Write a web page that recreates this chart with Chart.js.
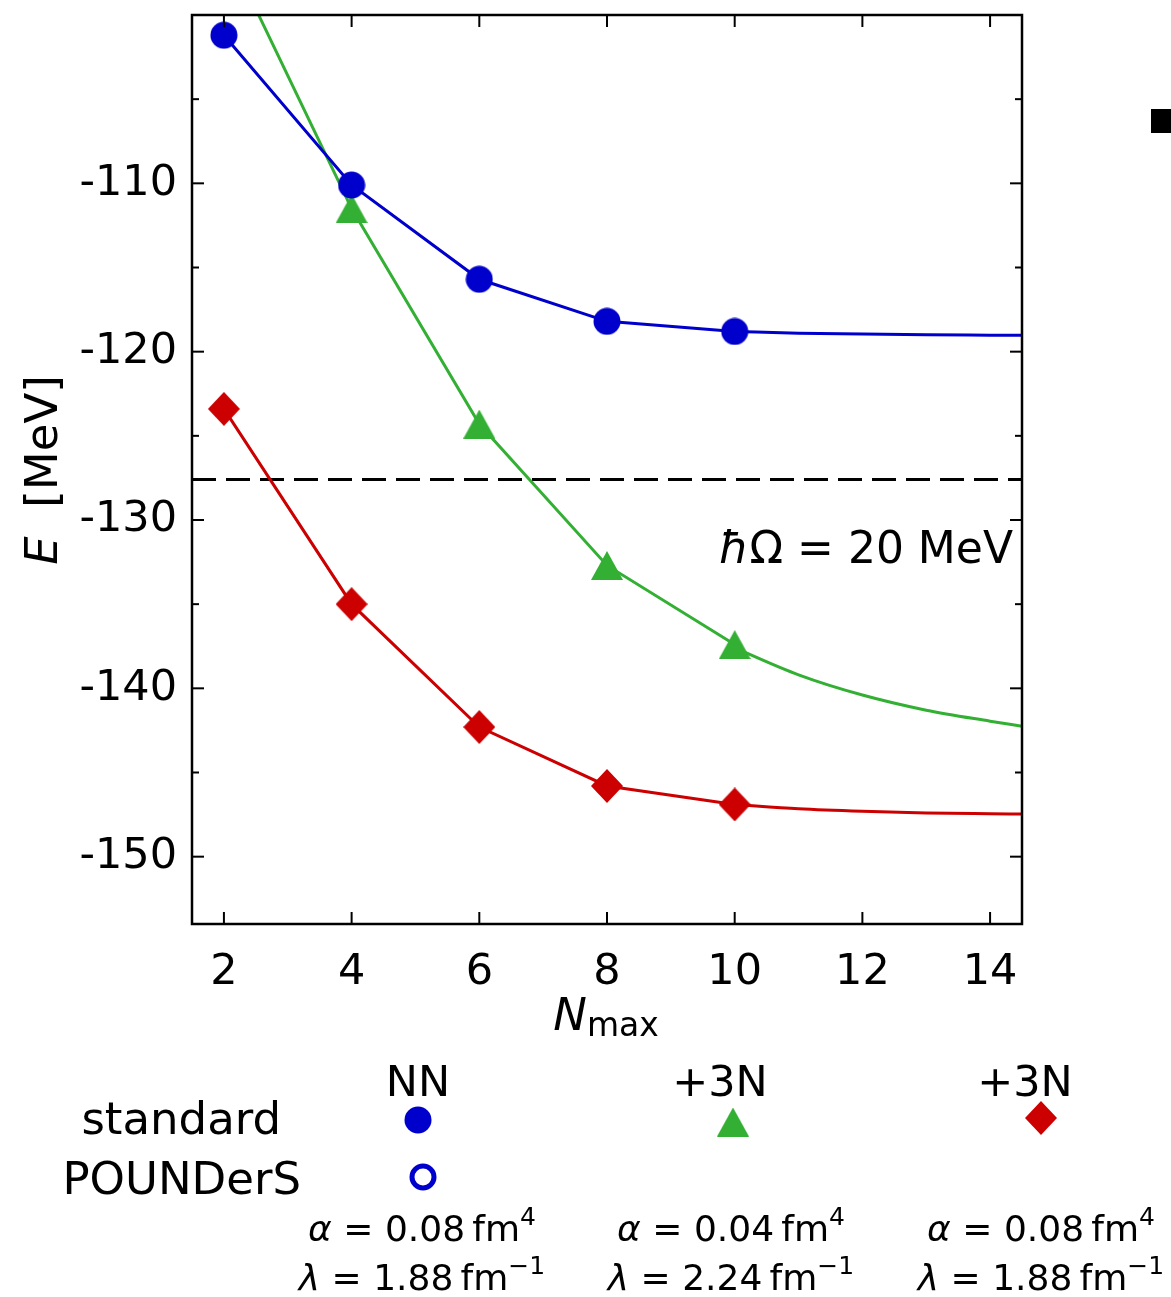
<!DOCTYPE html>
<html>
<head>
<meta charset="utf-8">
<script src="https://cdn.jsdelivr.net/npm/chart.js@4.4.1/dist/chart.umd.min.js"></script>
<style>
html, body { margin: 0; padding: 0; background: #fff; overflow: hidden; }
</style>
</head>
<body>
<canvas id="chart" width="1171" height="1297"></canvas>
<script>
// ground-state energies vs Nmax (hbar Omega = 20 MeV)
const nmax = [2, 4, 6, 8, 10];
const nnStandard = [-101.2, -110.1, -115.7, -118.2, -118.8];
const soft3N = [-95.7, -111.5, -124.3, -132.7, -137.4];   // alpha = 0.04, lambda = 2.24
const hard3N = [-123.4, -135.0, -142.3, -145.8, -146.9];  // alpha = 0.08, lambda = 1.88

const extrapN = [10, 11, 12, 13, 14, 14.5];
const nnExtrap = [-118.8, -118.9, -118.95, -119.0, -119.02, -119.03];
const soft3NExtrap = [-137.6, -139.2, -140.4, -141.3, -141.95, -142.25];
const hard3NExtrap = [-146.9, -147.15, -147.3, -147.4, -147.45, -147.47];

const refEnergy = -127.6;
const xTicks = [2, 4, 6, 8, 10, 12, 14];
const yMajor = [-150, -140, -130, -120, -110];
const yMinor = [-145, -135, -125, -115, -105];

const BLUE = '#0000cc', GREEN = '#33b033', RED = '#cc0000';
const FONT = '"DejaVu Sans", sans-serif';

function marker(shape, color, w, h) {
    const c = document.createElement('canvas');
    c.width = w;
    c.height = h;
    const g = c.getContext('2d');
    g.fillStyle = color;
    g.strokeStyle = color;
    g.beginPath();
    if (shape === 'circle') {
        g.arc(w / 2, h / 2, w / 2 - 0.5, 0, 2 * Math.PI);
        g.fill();
    } else if (shape === 'open') {
        g.lineWidth = 5;
        g.arc(w / 2, h / 2, w / 2 - 3, 0, 2 * Math.PI);
        g.stroke();
    } else if (shape === 'triangle') {
        g.moveTo(w / 2, 0);
        g.lineTo(w, h);
        g.lineTo(0, h);
        g.closePath();
        g.fill();
    } else {
        g.moveTo(w / 2, 0);
        g.lineTo(w, h / 2);
        g.lineTo(w / 2, h);
        g.lineTo(0, h / 2);
        g.closePath();
        g.fill();
    }
    return c;
}

const circleMk = marker('circle', BLUE, 28, 28);
const openMk = marker('open', BLUE, 28, 28);
const triMk = marker('triangle', GREEN, 32, 29);
const diaMk = marker('diamond', RED, 32, 34);

const pts = (xs, ys) => xs.map((x, i) => ({ x: x, y: ys[i] }));

function lineSet(xs, ys, color, curved) {
    return {
        data: pts(xs, ys),
        borderColor: color,
        borderWidth: 3,
        pointRadius: 0,
        showLine: true,
        cubicInterpolationMode: curved ? 'monotone' : 'default',
        tension: 0,
        order: 2
    };
}

function markerSet(ys, img) {
    return {
        data: pts(nmax, ys),
        pointStyle: img,
        pointRadius: 14,
        showLine: false,
        order: 0
    };
}

// draw a run of text pieces: [text, size, italic, dy]
function richText(ctx, parts, x, y, align) {
    const fontOf = p => (p[2] ? 'italic ' : '') + p[1] + 'px ' + FONT;
    let w = 0;
    parts.forEach(p => { ctx.font = fontOf(p); w += ctx.measureText(p[0]).width; });
    let cx = align === 'center' ? x - w / 2 : align === 'right' ? x - w : x;
    ctx.textAlign = 'left';
    ctx.textBaseline = 'alphabetic';
    parts.forEach(p => {
        ctx.font = fontOf(p);
        ctx.fillText(p[0], cx, y + (p[3] || 0));
        cx += ctx.measureText(p[0]).width;
    });
}

const decorations = {
    id: 'decorations',
    afterDraw(chart) {
        const ctx = chart.ctx;
        const a = chart.chartArea;
        const xs = chart.scales.x, ys = chart.scales.y;
        ctx.save();
        ctx.strokeStyle = '#000';
        ctx.fillStyle = '#000';

        // inward ticks
        ctx.lineWidth = 2;
        const seg = (x1, y1, x2, y2) => { ctx.beginPath(); ctx.moveTo(x1, y1); ctx.lineTo(x2, y2); ctx.stroke(); };
        xTicks.forEach(v => {
            const px = xs.getPixelForValue(v);
            seg(px, a.bottom, px, a.bottom - 12);
            seg(px, a.top, px, a.top + 12);
        });
        yMajor.forEach(v => {
            const py = ys.getPixelForValue(v);
            seg(a.left, py, a.left + 12, py);
            seg(a.right, py, a.right - 12, py);
        });
        yMinor.forEach(v => {
            const py = ys.getPixelForValue(v);
            seg(a.left, py, a.left + 7, py);
            seg(a.right, py, a.right - 7, py);
        });

        // frame
        ctx.lineWidth = 2.5;
        ctx.strokeRect(a.left, a.top, a.right - a.left, a.bottom - a.top);

        // axis titles
        richText(ctx, [['N', 45, true], ['max', 33, false, 6]], 606, 1030, 'center');
        ctx.save();
        ctx.translate(57, 470);
        ctx.rotate(-Math.PI / 2);
        richText(ctx, [['E', 45, true], ['  [MeV]', 45]], 0, 0, 'center');
        ctx.restore();

        // annotation
        richText(ctx, [['ħ', 44, true], ['Ω', 44], [' = 20 MeV', 44]], 1013, 563, 'right');

        // cut-off marker at the right edge
        ctx.fillRect(1151, 109, 24, 24);

        // legend table
        richText(ctx, [['NN', 43]], 418, 1096, 'center');
        richText(ctx, [['+3N', 43]], 720, 1096, 'center');
        richText(ctx, [['+3N', 43]], 1025, 1096, 'center');
        richText(ctx, [['standard', 45]], 281, 1134, 'right');
        richText(ctx, [['POUNDerS', 45]], 301, 1194, 'right');
        const put = (img, x, y) => ctx.drawImage(img, x - img.width / 2, y - img.height / 2);
        put(circleMk, 418, 1120);
        put(openMk, 423, 1177);
        put(triMk, 733, 1122);
        put(diaMk, 1041, 1118);

        const params = [['0.08', '1.88', 422], ['0.04', '2.24', 731], ['0.08', '1.88', 1041]];
        params.forEach(p => {
            richText(ctx, [['α', 36, true], [' = ' + p[0] + '\u2009fm', 36], ['4', 25, false, -16]], p[2], 1241, 'center');
            richText(ctx, [['λ', 36, true], [' = ' + p[1] + '\u2009fm', 36], ['\u22121', 25, false, -16]], p[2], 1290, 'center');
        });
        ctx.restore();
    }
};

new Chart(document.getElementById('chart'), {
    type: 'scatter',
    data: {
        datasets: [
            markerSet(nnStandard, circleMk),
            markerSet(soft3N, triMk),
            markerSet(hard3N, diaMk),
            lineSet(nmax, nnStandard, BLUE, false),
            lineSet(nmax, soft3N, GREEN, false),
            lineSet(nmax, hard3N, RED, false),
            lineSet(extrapN, nnExtrap, BLUE, true),
            lineSet(extrapN, soft3NExtrap, GREEN, true),
            lineSet(extrapN, hard3NExtrap, RED, true),
            {
                data: [{ x: 1.5, y: refEnergy }, { x: 14.5, y: refEnergy }],
                borderColor: '#000',
                borderWidth: 3,
                borderDash: [24, 10],
                pointRadius: 0,
                showLine: true,
                order: 3
            }
        ]
    },
    options: {
        responsive: false,
        devicePixelRatio: 1,
        animation: false,
        layout: { padding: { top: 10, right: 149, left: 0, bottom: 0 } },
        plugins: { legend: { display: false }, tooltip: { enabled: false } },
        scales: {
            x: {
                type: 'linear',
                min: 1.5,
                max: 14.5,
                grid: { display: false, drawTicks: false },
                border: { display: false },
                afterBuildTicks: s => { s.ticks = xTicks.map(v => ({ value: v })); },
                afterFit: s => { s.height = 373; s.paddingLeft = 0; s.paddingRight = 0; },
                ticks: {
                    padding: 23,
                    color: '#000',
                    font: { family: FONT, size: 43 },
                    callback: v => String(v)
                }
            },
            y: {
                type: 'linear',
                min: -154,
                max: -100,
                grid: { display: false, drawTicks: false },
                border: { display: false },
                afterBuildTicks: s => { s.ticks = yMajor.map(v => ({ value: v })); },
                afterFit: s => { s.width = 192; s.paddingTop = 0; s.paddingBottom = 0; },
                ticks: {
                    padding: 15,
                    color: '#000',
                    font: { family: FONT, size: 43 },
                    callback: v => String(v)
                }
            }
        }
    },
    plugins: [decorations]
});
</script>
</body>
</html>
